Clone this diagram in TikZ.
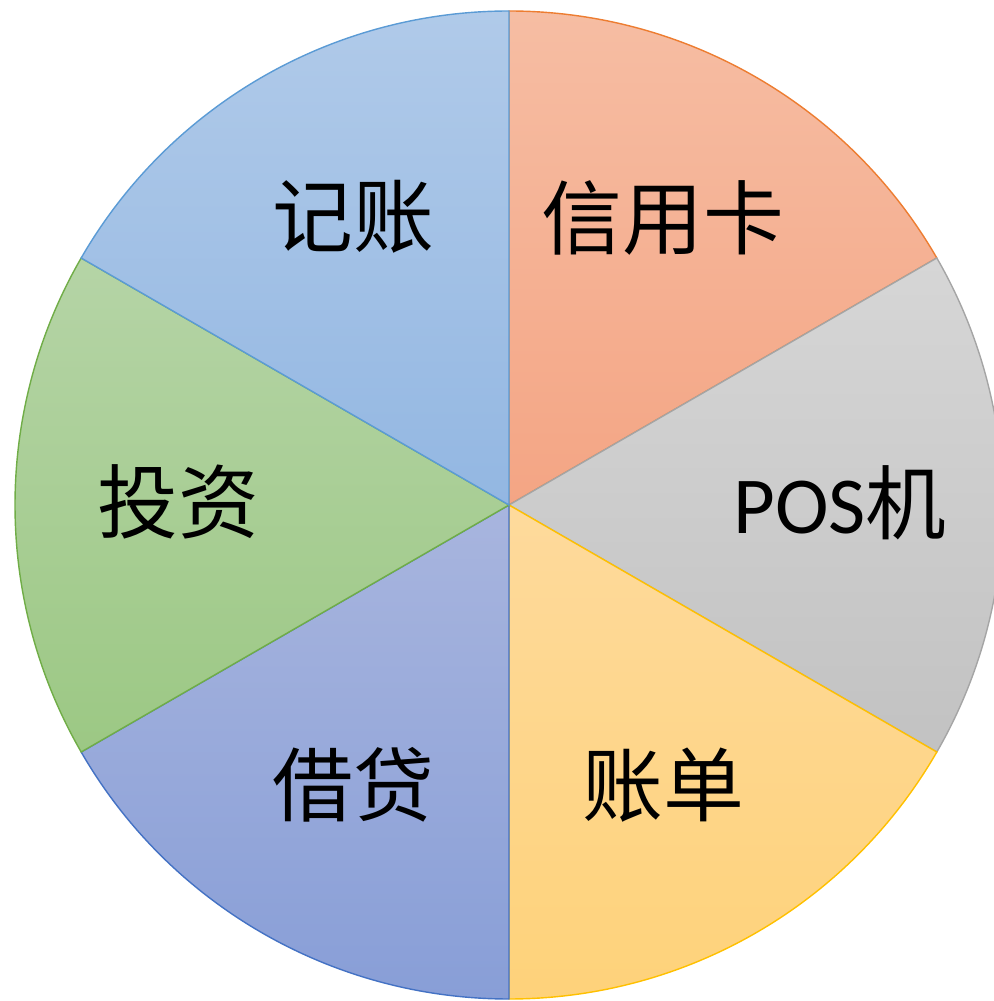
\documentclass[tikz,border=0pt]{standalone}
\usepackage{fontspec}
\usepackage{tikz}
\newfontfamily\cjk{Noto Sans CJK SC}
\newfontfamily\latn{Carlito}
\definecolor{cardtop}{HTML}{F6BDA3}
\definecolor{cardbot}{HTML}{F4A584}
\definecolor{cardline}{HTML}{ED7D31}
\definecolor{postop}{HTML}{D6D6D6}
\definecolor{posbot}{HTML}{C2C2C2}
\definecolor{posline}{HTML}{A5A5A5}
\definecolor{billtop}{HTML}{FEDA9C}
\definecolor{billbot}{HTML}{FED27A}
\definecolor{billline}{HTML}{FFC000}
\definecolor{loantop}{HTML}{A8B5DE}
\definecolor{loanbot}{HTML}{889ED7}
\definecolor{loanline}{HTML}{4472C4}
\definecolor{investtop}{HTML}{B5D4A6}
\definecolor{investbot}{HTML}{9CC884}
\definecolor{investline}{HTML}{70AD47}
\definecolor{booktop}{HTML}{B0CAE9}
\definecolor{bookbot}{HTML}{93B7E2}
\definecolor{bookline}{HTML}{5B9BD5}
\newcommand{\rad}{4.94}

\begin{document}
\begin{tikzpicture}[
        sector/.style = {line width=0.4pt},
        slabel/.style = {inner sep=0pt, font=\cjk\fontsize{23}{23}\selectfont}
    ]
        \useasboundingbox (0, 0) rectangle (9.94, 10.01);
        \clip (0, 0) rectangle (9.94, 10.01);
        \coordinate (o) at (5.09, 4.96);

        \draw[sector, draw=cardline, top color=cardtop, bottom color=cardbot]
        (o) -- ++(90:\rad) arc (90:30:\rad) -- cycle;
        \draw[sector, draw=posline, top color=postop, bottom color=posbot]
        (o) -- ++(30:\rad) arc (30:-30:\rad) -- cycle;
        \draw[sector, draw=billline, top color=billtop, bottom color=billbot]
        (o) -- ++(-30:\rad) arc (-30:-90:\rad) -- cycle;
        \draw[sector, draw=loanline, top color=loantop, bottom color=loanbot]
        (o) -- ++(-90:\rad) arc (-90:-150:\rad) -- cycle;
        \draw[sector, draw=investline, top color=investtop, bottom color=investbot]
        (o) -- ++(210:\rad) arc (210:150:\rad) -- cycle;
        \draw[sector, draw=bookline, top color=booktop, bottom color=bookbot]
        (o) -- ++(150:\rad) arc (150:90:\rad) -- cycle;

        \node[slabel] (card) at (6.63, 7.83) {信用卡};
        \node[slabel] (pos) at (8.40, 4.98) {{\latn POS}机};
        \node[slabel] (bill) at (6.63, 2.16) {账单};
        \node[slabel] (loan) at (3.53, 2.16) {借贷};
        \node[slabel] (invest) at (1.78, 4.99) {投资};
        \node[slabel] (book) at (3.53, 7.84) {记账};

    \end{tikzpicture}
\end{document}
